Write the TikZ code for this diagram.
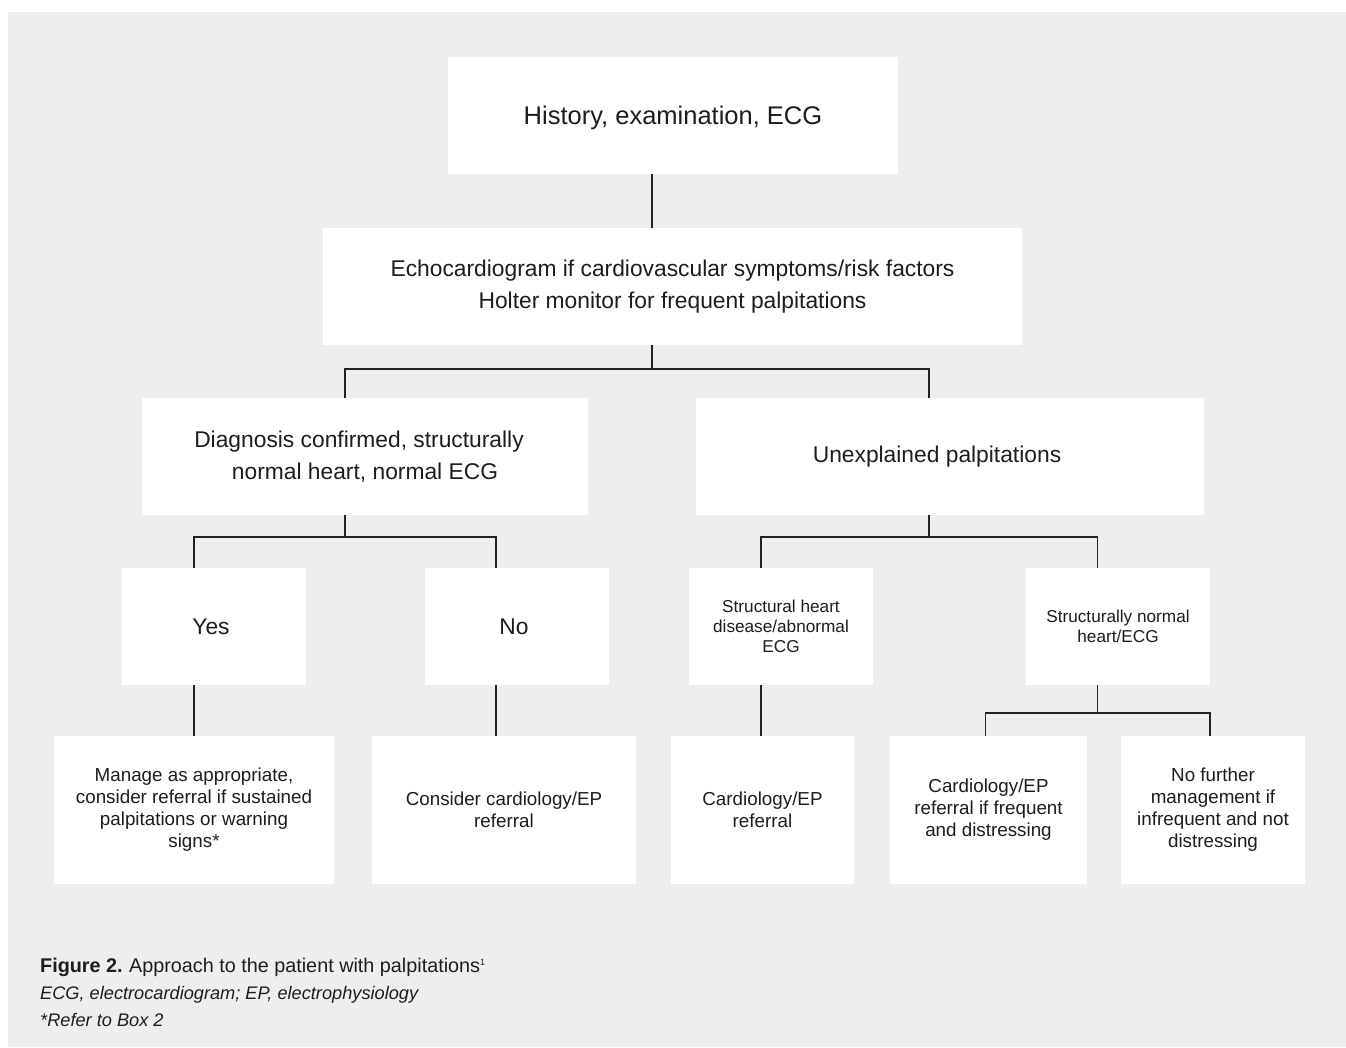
\documentclass[tikz,border=0pt]{standalone}
\usepackage{fontspec}
\setmainfont{Liberation Sans}
\definecolor{bgcol}{HTML}{EDEEF0}
\definecolor{txtcol}{HTML}{1D1D1B}
\definecolor{linecol}{HTML}{222222}
\tikzset{
  box/.style={fill=white, draw=none, inner sep=0pt, align=center, text=txtcol},
  bigfont/.style={font=\fontsize{25.5}{30}\selectfont},
  midfont/.style={font=\fontsize{22.8}{31.5}\selectfont},
  smallfont/.style={font=\fontsize{17.2}{20}\selectfont},
  botfont/.style={font=\fontsize{18.8}{22}\selectfont},
  conn/.style={draw=linecol, line width=1.1pt},
  capt/.style={anchor=base west, inner sep=0pt, text=txtcol}
}
\begin{document}
\begin{tikzpicture}[x=1pt,y=-1pt]
\useasboundingbox (0,0) rectangle (1346,1047);
\fill[white] (0,0) rectangle (1346,1047);
\fill[bgcol] (8,12) rectangle (1346,1047);

\node[box,bigfont,minimum width=450pt,minimum height=117pt,text height=18pt,text depth=0pt] (b1) at (673,115.5) {History, examination, ECG};
\node[box,midfont,minimum width=699pt,minimum height=117pt] (b2) at (672.5,286.5) {Echocardiogram if cardiovascular symptoms/risk factors\\Holter monitor for frequent palpitations};
\node[box,midfont,minimum width=446pt,minimum height=117pt] (b3) at (365,456.5) {\hspace*{-12pt}Diagnosis confirmed, structurally\\normal heart, normal ECG};
\node[box,midfont,minimum width=508pt,minimum height=117pt] (b4) at (950,456.5) {\hspace*{-26pt}Unexplained palpitations};

\node[box,midfont,minimum width=184pt,minimum height=117pt] (yes) at (214,626.5) {\hspace*{-6pt}Yes};
\node[box,midfont,minimum width=184pt,minimum height=117pt] (no) at (517,626.5) {\hspace*{-6pt}No};
\node[box,smallfont,minimum width=184pt,minimum height=117pt] (sh) at (781,626.5) {Structural heart\\disease/abnormal\\ECG};
\node[box,smallfont,minimum width=184pt,minimum height=117pt] (sn) at (1118,626.5) {Structurally normal\\heart/ECG};

\node[box,botfont,minimum width=280pt,minimum height=148pt] (m1) at (194,810) {Manage as appropriate,\\consider referral if sustained\\palpitations or warning\\signs*};
\node[box,botfont,minimum width=264pt,minimum height=148pt] (m2) at (504,810) {Consider cardiology/EP\\referral};
\node[box,botfont,minimum width=183pt,minimum height=148pt] (m3) at (762.5,810) {Cardiology/EP\\referral};
\node[box,botfont,minimum width=197pt,minimum height=148pt] (m4) at (988.5,810) {Cardiology/EP\\referral if frequent\\and distressing};
\node[box,botfont,minimum width=184pt,minimum height=148pt] (m5) at (1213,810) {No further\\management if\\infrequent and not\\distressing};

\coordinate (j1) at (652,369);
\coordinate (j1l) at (345,369);
\coordinate (j1r) at (929,369);
\coordinate (j2) at (345,537);
\coordinate (j2l) at (194,537);
\coordinate (j2r) at (496,537);
\coordinate (j3) at (929,537);
\coordinate (j3l) at (761,537);
\coordinate (j3r) at (1097.5,537);
\coordinate (j4) at (1097.5,713);
\coordinate (j4l) at (985.5,713);
\coordinate (j4r) at (1210,713);

\draw[conn] (b1.south -| j1) -- (b2.north -| j1);
\draw[conn] (b2.south -| j1) -- (j1);
\draw[conn] (b3.north -| j1l) -- (j1l) -- (j1r) -- (b4.north -| j1r);
\draw[conn] (b3.south -| j2) -- (j2);
\draw[conn] (yes.north -| j2l) -- (j2l) -- (j2r) -- (no.north -| j2r);
\draw[conn] (b4.south -| j3) -- (j3);
\draw[conn] (sh.north -| j3l) -- (j3l) -- (j3r) -- (sn.north -| j3r);
\draw[conn] (yes.south -| j2l) -- (m1.north -| j2l);
\draw[conn] (no.south -| j2r) -- (m2.north -| j2r);
\draw[conn] (sh.south -| j3l) -- (m3.north -| j3l);
\draw[conn] (sn.south -| j4) -- (j4);
\draw[conn] (m4.north -| j4l) -- (j4l) -- (j4r) -- (m5.north -| j4r);

\node[capt,font=\fontsize{19.8}{24}\selectfont] (c1) at (40,972) {\textbf{Figure 2.}\hspace{-1pt} Approach to the patient with palpitations{\fontsize{9}{9}\selectfont\raisebox{7pt}{1}}};
\node[capt,font=\fontsize{18.2}{22}\selectfont\itshape] (c2) at (40,999) {ECG, electrocardiogram; EP, electrophysiology};
\node[capt,font=\fontsize{18.2}{22}\selectfont\itshape] (c3) at (40,1026) {*Refer to Box 2};
\end{tikzpicture}
\end{document}
